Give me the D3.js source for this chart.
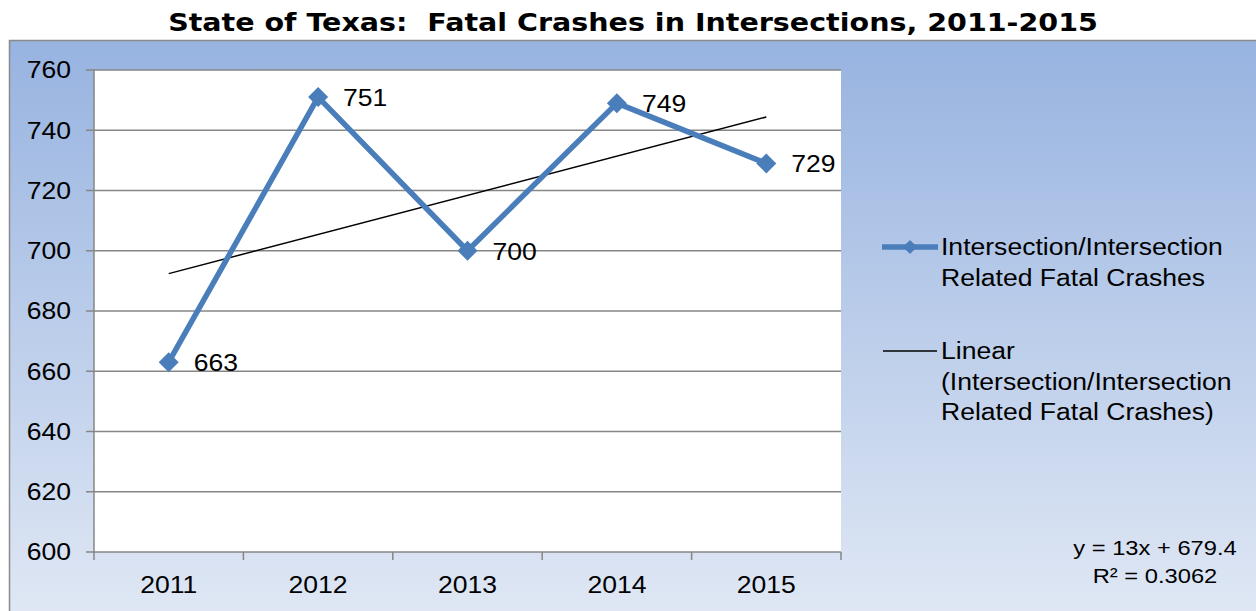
<!DOCTYPE html>
<html>
<head>
<meta charset="utf-8">
<script src="https://cdn.jsdelivr.net/npm/d3@7"></script>
<style>
  html, body { margin: 0; padding: 0; background: #ffffff; }
  svg { display: block; }
  text { font-family: "Liberation Sans", Arial, sans-serif; fill: #000; }
</style>
</head>
<body>
<svg id="chart" width="1256" height="611"></svg>
<script>
// ---- data ----
const title = "State of Texas:  Fatal Crashes in Intersections, 2011-2015";
const years = ["2011", "2012", "2013", "2014", "2015"];
const fatalCrashes = [663, 751, 700, 749, 729];
const yTicks = [600, 620, 640, 660, 680, 700, 720, 740, 760];
const trendSlope = 13;
const trendIntercept = 679.4;
const trendLabel = ["y = 13x + 679.4", "R\u00B2 = 0.3062"];
const legendSeries = ["Intersection/Intersection", "Related Fatal Crashes"];
const legendTrend = ["Linear", "(Intersection/Intersection", "Related Fatal Crashes)"];

// ---- layout ----
const SX = 1.13; // horizontal stretch of text in the reference
const plot = { left: 94, right: 841, top: 70, bottom: 552 };
const blue = "#4a7ebb";
const grid = "#868686";

const svg = d3.select("#chart");

const defs = svg.append("defs");
const grad = defs.append("linearGradient")
  .attr("id", "bg").attr("gradientUnits", "userSpaceOnUse")
  .attr("x1", 0).attr("y1", 40).attr("x2", 0).attr("y2", 611);
grad.append("stop").attr("offset", "0%").attr("stop-color", "#97b3e0");
grad.append("stop").attr("offset", "100%").attr("stop-color", "#dfe7f4");

// chart frame
svg.append("rect")
  .attr("x", 9.5).attr("y", 40.5).attr("width", 1270).attr("height", 600)
  .attr("fill", "url(#bg)").attr("stroke", "#8a8a8a").attr("stroke-width", 1.5);

function addText(g, x, y, str, anchor, size, extra) {
  const t = g.append("text")
    .attr("transform", `translate(${x},${y}) scale(${SX},1)`)
    .attr("text-anchor", anchor || "start")
    .style("font-size", (size || 23.5) + "px")
    .text(str);
  if (extra) extra(t);
  return t;
}

// title
const titleText = svg.append("text")
  .attr("x", 633).attr("y", 31.5)
  .attr("text-anchor", "middle")
  .style("font-family", "'DejaVu Sans', Verdana, sans-serif")
  .style("font-weight", "bold")
  .style("font-size", "24px")
  .style("white-space", "pre")
  .attr("xml:space", "preserve")
  .text(title);
{
  const w = titleText.node().getComputedTextLength();
  const target = 930;
  titleText.attr("transform", `translate(633,0) scale(${target / w},1) translate(-633,0)`);
}

// scales
const x = d3.scaleBand().domain(years).range([plot.left, plot.right]);
const y = d3.scaleLinear().domain([600, 760]).range([plot.bottom, plot.top]);
const cx = d => x(d) + x.bandwidth() / 2;

// plot area
svg.append("rect")
  .attr("x", plot.left).attr("y", plot.top)
  .attr("width", plot.right - plot.left).attr("height", plot.bottom - plot.top)
  .attr("fill", "#ffffff");

// gridlines + y ticks
const gy = svg.append("g");
yTicks.forEach(v => {
  gy.append("line")
    .attr("x1", plot.left - 8).attr("x2", plot.right)
    .attr("y1", y(v)).attr("y2", y(v))
    .attr("stroke", grid).attr("stroke-width", 1.5);
  addText(gy, 71, y(v) + 8.3, String(v), "end");
});
// y axis line
svg.append("line")
  .attr("x1", plot.left).attr("x2", plot.left)
  .attr("y1", plot.top).attr("y2", plot.bottom + 1)
  .attr("stroke", grid).attr("stroke-width", 1.5);

// x axis ticks at category boundaries
const gx = svg.append("g");
const bounds = years.map(d => x(d)).concat([x.range()[1]]);
bounds.forEach(b => {
  gx.append("line")
    .attr("x1", b).attr("x2", b)
    .attr("y1", plot.bottom).attr("y2", plot.bottom + 8)
    .attr("stroke", grid).attr("stroke-width", 1.5);
});
years.forEach(d => addText(gx, cx(d), 593, d, "middle"));

// trend line
const trendY = i => trendIntercept + trendSlope * (i + 1);
svg.append("line")
  .attr("x1", cx(years[0])).attr("y1", y(trendY(0)))
  .attr("x2", cx(years[years.length - 1])).attr("y2", y(trendY(years.length - 1)))
  .attr("stroke", "#000").attr("stroke-width", 1.5);

// series line
const pts = years.map((d, i) => [cx(d), y(fatalCrashes[i])]);
svg.append("path")
  .attr("d", d3.line()(pts))
  .attr("fill", "none").attr("stroke", blue)
  .attr("stroke-width", 5.5).attr("stroke-linejoin", "round");

const diamond = d3.symbol().type(d3.symbolSquare).size(200)();
svg.selectAll(".mk").data(pts).enter().append("path")
  .attr("d", diamond)
  .attr("transform", p => `translate(${p[0]},${p[1]}) rotate(45)`)
  .attr("fill", blue);

// data labels
const gl = svg.append("g");
pts.forEach((p, i) => addText(gl, p[0] + 25, p[1] + 9, String(fatalCrashes[i]), "start"));

// legend
const lg = svg.append("g");
lg.append("line").attr("x1", 882).attr("x2", 938).attr("y1", 247).attr("y2", 247)
  .attr("stroke", blue).attr("stroke-width", 5.5);
lg.append("path").attr("d", d3.symbol().type(d3.symbolSquare).size(100)())
  .attr("transform", "translate(910,247) rotate(45)").attr("fill", blue);
legendSeries.forEach((s, i) => addText(lg, 941, 255 + i * 31, s, "start"));

lg.append("line").attr("x1", 883).attr("x2", 937).attr("y1", 351).attr("y2", 351)
  .attr("stroke", "#000").attr("stroke-width", 1.5);
legendTrend.forEach((s, i) => addText(lg, 941, 359.3 + i * 30.5, s, "start"));

// trendline equation
trendLabel.forEach((s, i) => addText(svg, 1155, 555 + i * 28, s, "middle", 21));
</script>
</body>
</html>
